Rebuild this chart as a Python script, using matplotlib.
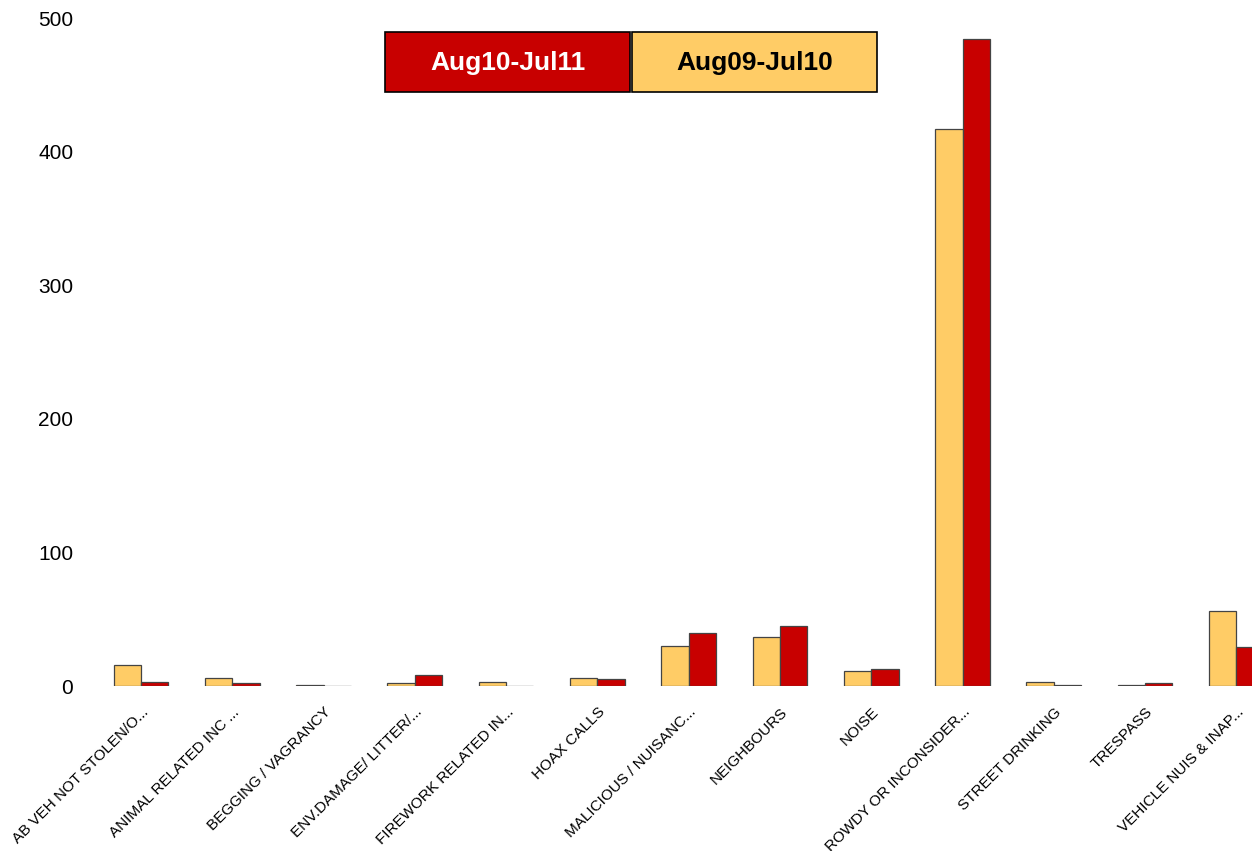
import numpy as np
import matplotlib.pyplot as plt
import matplotlib.transforms as mtransforms
from matplotlib.patches import Rectangle

# categories and counts
categories = ['AB VEH NOT STOLEN/O...', 'ANIMAL RELATED INC ...', 'BEGGING / VAGRANCY',
              'ENV.DAMAGE/ LITTER/...', 'FIREWORK RELATED IN...', 'HOAX CALLS',
              'MALICIOUS / NUISANC...', 'NEIGHBOURS', 'NOISE', 'ROWDY OR INCONSIDER...',
              'STREET DRINKING', 'TRESPASS', 'VEHICLE NUIS & INAP...']
aug09_jul10 = [16, 6, 1, 2, 3, 6, 30, 37, 11, 417, 3, 1, 56]
aug10_jul11 = [3, 2, 0, 8, 0, 5, 40, 45, 13, 484, 1, 2, 29]
yticks = [0, 100, 200, 300, 400, 500]

plt.rcParams['font.family'] = ['Liberation Sans', 'DejaVu Sans']

fig = plt.figure(figsize=(12.52, 8.51), dpi=100)
ax = fig.add_axes([95.35 / 1252, 165 / 851, (1282 - 95.35) / 1252, 668 / 851])

x = np.arange(len(categories))
w = 0.3
ax.bar(x - w / 2, aug09_jul10, w, color='#FFCC66', edgecolor='#444444', linewidth=0.9)
ax.bar(x + w / 2, aug10_jul11, w, color='#C80000', edgecolor='#444444', linewidth=0.9)

ax.set_xlim(-0.5, len(categories) - 0.5)
ax.set_ylim(0, 500)
ax.set_yticks(yticks)
ax.set_yticklabels([str(v) for v in yticks], fontsize=15)
ax.set_xticks(x)
ax.set_xticklabels(categories, fontsize=11, rotation=45, ha='right', va='top')
ax.tick_params(axis='both', length=0)
ax.tick_params(axis='y', pad=16)
for sp in ax.spines.values():
    sp.set_visible(False)

# shift the rotated labels (after tick_params, which resets transforms)
offset = mtransforms.ScaledTranslation(10 / 100, -14 / 100, fig.dpi_scale_trans)
for lab in ax.get_xticklabels():
    lab.set_transform(lab.get_transform() + offset)

# legend boxes at top
W, H = 1252, 851
boxes = [('Aug10-Jul11', '#C80000', 'white', 385), ('Aug09-Jul10', '#FFCC66', 'black', 632)]
for label, fc, tc, x0 in boxes:
    fig.patches.append(Rectangle((x0 / W, (H - 92) / H), 245 / W, 60 / H,
                                 transform=fig.transFigure, facecolor=fc,
                                 edgecolor='black', linewidth=1.2))
    fig.text((x0 + 122.5) / W, (H - 63) / H, label, color=tc, fontsize=19,
             fontweight='bold', ha='center', va='center')

fig.savefig('out.png', dpi=100)
